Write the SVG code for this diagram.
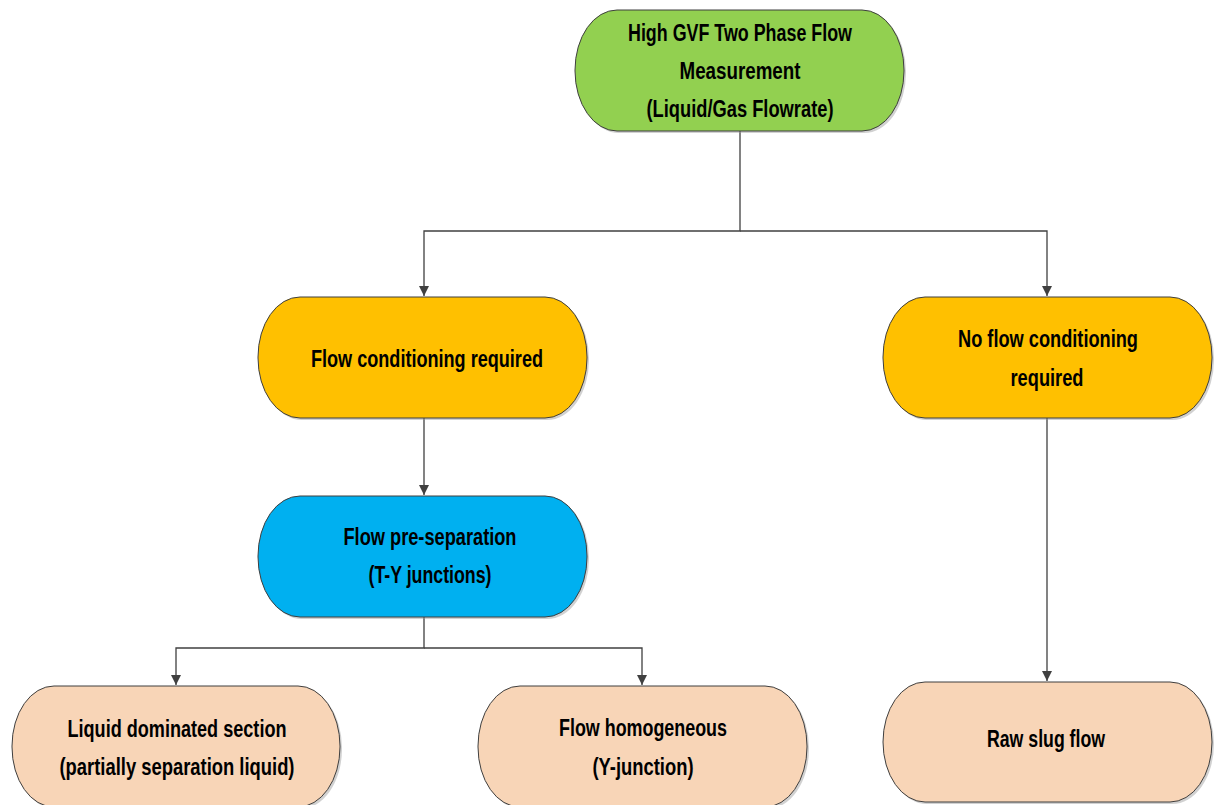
<svg xmlns="http://www.w3.org/2000/svg" width="1215" height="805" viewBox="0 0 1215 805">
  <style>
    .node { stroke: #3f3f3f; stroke-width: 1; }
    .shadow { fill: #9a9a9a; opacity: 0.45; }
    .green { fill: #92d050; }
    .amber { fill: #ffc000; }
    .blue { fill: #00b0f0; }
    .peach { fill: #f8d5b7; }
    .label { font-family: "Liberation Sans", Arial, sans-serif; font-weight: bold; font-size: 23px; fill: #000; text-anchor: middle; }
    .wire { fill: none; stroke: #404040; stroke-width: 1.3; }
  </style>
  <defs>
    <marker id="arrow" viewBox="0 0 10 16" refX="10" refY="8" markerWidth="10" markerHeight="16" markerUnits="userSpaceOnUse" orient="auto">
      <path d="M0,3 L10,8 L0,13 Z" fill="#404040"/>
    </marker>
  </defs>

  <rect width="1215" height="805" fill="#ffffff"/>

  <!-- connectors -->
  <g id="connectors">
    <path class="wire" d="M740,131 V231 H424 V296" marker-end="url(#arrow)"/>
    <path class="wire" d="M740,231 H1047 V296" marker-end="url(#arrow)"/>
    <path class="wire" d="M424,418 V495" marker-end="url(#arrow)"/>
    <path class="wire" d="M424,617 V648 H176 V685" marker-end="url(#arrow)"/>
    <path class="wire" d="M424,648 H642 V685" marker-end="url(#arrow)"/>
    <path class="wire" d="M1047,418 V681" marker-end="url(#arrow)"/>
  </g>

  <!-- top: measurement goal -->
  <g id="node-gvf">
    <rect class="shadow" x="577" y="12" width="329" height="121" rx="42" ry="60"/>
    <rect class="node green" x="575" y="10" width="329" height="121" rx="42" ry="60"/>
    <text class="label" x="740" y="41" textLength="224" lengthAdjust="spacingAndGlyphs">High GVF Two Phase Flow</text>
    <text class="label" x="740" y="79" textLength="121" lengthAdjust="spacingAndGlyphs">Measurement</text>
    <text class="label" x="740" y="117" textLength="187" lengthAdjust="spacingAndGlyphs">(Liquid/Gas Flowrate)</text>
  </g>

  <g id="node-conditioning">
    <rect class="shadow" x="260" y="299" width="329" height="121" rx="42" ry="60"/>
    <rect class="node amber" x="258" y="297" width="329" height="121" rx="42" ry="60"/>
    <text class="label" x="427" y="367" textLength="232" lengthAdjust="spacingAndGlyphs">Flow conditioning required</text>
  </g>

  <g id="node-no-conditioning">
    <rect class="shadow" x="885" y="299" width="329" height="121" rx="42" ry="60"/>
    <rect class="node amber" x="883" y="297" width="329" height="121" rx="42" ry="60"/>
    <text class="label" x="1048" y="347" textLength="180" lengthAdjust="spacingAndGlyphs">No flow conditioning</text>
    <text class="label" x="1047" y="386" textLength="73" lengthAdjust="spacingAndGlyphs">required</text>
  </g>

  <g id="node-preseparation">
    <rect class="shadow" x="260" y="498" width="329" height="121" rx="42" ry="60"/>
    <rect class="node blue" x="258" y="496" width="329" height="121" rx="42" ry="60"/>
    <text class="label" x="430" y="545" textLength="173" lengthAdjust="spacingAndGlyphs">Flow pre-separation</text>
    <text class="label" x="430" y="583" textLength="123" lengthAdjust="spacingAndGlyphs">(T-Y junctions)</text>
  </g>

  <g id="node-liquid">
    <rect class="shadow" x="14" y="688" width="328" height="121" rx="42" ry="60"/>
    <rect class="node peach" x="12" y="686" width="328" height="121" rx="42" ry="60"/>
    <text class="label" x="177" y="737" textLength="219" lengthAdjust="spacingAndGlyphs">Liquid dominated section</text>
    <text class="label" x="177" y="775" textLength="235" lengthAdjust="spacingAndGlyphs">(partially separation liquid)</text>
  </g>

  <g id="node-homogeneous">
    <rect class="shadow" x="480" y="688" width="329" height="121" rx="42" ry="60"/>
    <rect class="node peach" x="478" y="686" width="329" height="121" rx="42" ry="60"/>
    <text class="label" x="643" y="736" textLength="168" lengthAdjust="spacingAndGlyphs">Flow homogeneous</text>
    <text class="label" x="643" y="775" textLength="101" lengthAdjust="spacingAndGlyphs">(Y-junction)</text>
  </g>

  <g id="node-slug">
    <rect class="shadow" x="885" y="684" width="329" height="120" rx="42" ry="60"/>
    <rect class="node peach" x="883" y="682" width="329" height="120" rx="42" ry="60"/>
    <text class="label" x="1046" y="747" textLength="118" lengthAdjust="spacingAndGlyphs">Raw slug flow</text>
  </g>
</svg>
